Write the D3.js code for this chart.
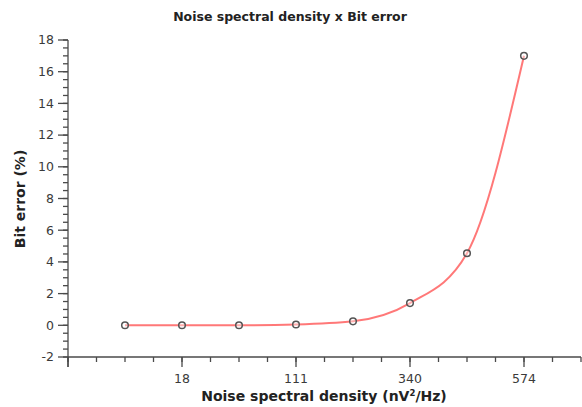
<!DOCTYPE html>
<html>
<head>
<meta charset="utf-8">
<script src="https://cdn.jsdelivr.net/npm/d3@7"></script>
<style>
	body { margin: 0; background: #fff; }
	text { font-family: "DejaVu Sans", Verdana, sans-serif; }
</style>
</head>
<body>
<svg id="chart"></svg>
<script>
const width = 582, height = 407;

// x positions are category slots, labels only on every other one
const xIndex = [1, 2, 3, 4, 5, 6, 7, 8];
const bitError = [0, 0, 0, 0.05, 0.25, 1.4, 4.55, 17.0];
const xTickPos = [2, 4, 6, 8];
const xTickLabels = ['18', '111', '340', '574'];
const yTicks = [-2, 0, 2, 4, 6, 8, 10, 12, 14, 16, 18];

const svg = d3.select('#chart')
	.attr('width', width)
	.attr('height', height);

const x = d3.scaleLinear().domain([0, 9]).range([68, 581]);
const y = d3.scaleLinear().domain([-2, 18]).range([357, 40]);

const axisColor = '#4a4a4a';

// y axis
const yAxis = svg.append('g');
yAxis.append('line')
	.attr('x1', x(0)).attr('x2', x(0))
	.attr('y1', y(18)).attr('y2', y(-2) + 10)
	.attr('stroke', axisColor).attr('stroke-width', 1.3);
yAxis.selectAll('.minor').data(d3.range(-2, 18.01, 0.5))
	.join('line')
	.attr('x1', x(0) - 5).attr('x2', x(0))
	.attr('y1', d => y(d)).attr('y2', d => y(d))
	.attr('stroke', axisColor).attr('stroke-width', 1.3);
yAxis.selectAll('.major').data(yTicks)
	.join('line')
	.attr('x1', x(0) - 10).attr('x2', x(0))
	.attr('y1', d => y(d)).attr('y2', d => y(d))
	.attr('stroke', axisColor).attr('stroke-width', 1.3);
yAxis.selectAll('text').data(yTicks)
	.join('text')
	.attr('x', x(0) - 14)
	.attr('y', d => y(d))
	.attr('dy', '0.35em')
	.attr('text-anchor', 'end')
	.attr('font-size', 12.5)
	.attr('fill', '#3a3a3a')
	.text(d => d);

// x axis
const xAxis = svg.append('g');
xAxis.append('line')
	.attr('x1', x(0)).attr('x2', x(9))
	.attr('y1', y(-2)).attr('y2', y(-2))
	.attr('stroke', axisColor).attr('stroke-width', 1.3);
xAxis.selectAll('.minor').data(d3.range(0, 9.01, 0.5))
	.join('line')
	.attr('x1', d => x(d)).attr('x2', d => x(d))
	.attr('y1', y(-2)).attr('y2', y(-2) + 5)
	.attr('stroke', axisColor).attr('stroke-width', 1.3);
xAxis.selectAll('.major').data([0].concat(xTickPos))
	.join('line')
	.attr('x1', d => x(d)).attr('x2', d => x(d))
	.attr('y1', y(-2)).attr('y2', y(-2) + 10)
	.attr('stroke', axisColor).attr('stroke-width', 1.3);
xAxis.selectAll('text').data(xTickPos)
	.join('text')
	.attr('x', d => x(d))
	.attr('y', y(-2) + 26)
	.attr('text-anchor', 'middle')
	.attr('font-size', 12.5)
	.attr('fill', '#3a3a3a')
	.text((d, i) => xTickLabels[i]);

// curve and markers
const line = d3.line()
	.x((d, i) => x(xIndex[i]))
	.y(d => y(d))
	.curve(d3.curveMonotoneX);

svg.append('path').datum(bitError)
	.attr('d', line)
	.attr('fill', 'none')
	.attr('stroke', '#ff6060')
	.attr('stroke-opacity', 0.85)
	.attr('stroke-width', 2);

svg.selectAll('.pt').data(bitError)
	.join('circle')
	.attr('cx', (d, i) => x(xIndex[i]))
	.attr('cy', d => y(d))
	.attr('r', 3.3)
	.attr('fill', '#fff')
	.attr('fill-opacity', 0.4)
	.attr('stroke', '#555')
	.attr('stroke-width', 1.5);

// titles
svg.append('text')
	.attr('x', 290).attr('y', 21)
	.attr('text-anchor', 'middle')
	.attr('font-size', 12.5)
	.attr('font-weight', 'bold')
	.attr('fill', '#222')
	.text('Noise spectral density x Bit error');

const xTitle = svg.append('text')
	.attr('x', 324).attr('y', 401)
	.attr('text-anchor', 'middle')
	.attr('font-size', 14)
	.attr('font-weight', 'bold')
	.attr('fill', '#222');
xTitle.append('tspan').text('Noise spectral density (nV');
xTitle.append('tspan').attr('dy', -5).attr('font-size', 8.5).text('2');
xTitle.append('tspan').attr('dy', 5).text('/Hz)');

svg.append('text')
	.attr('transform', `translate(25, 199) rotate(-90)`)
	.attr('text-anchor', 'middle')
	.attr('font-size', 14)
	.attr('font-weight', 'bold')
	.attr('fill', '#222')
	.text('Bit error (%)');
</script>
</body>
</html>
